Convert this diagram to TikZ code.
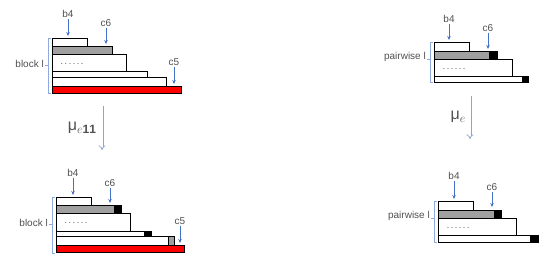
\documentclass[tikz,border=0pt]{standalone}
\usepackage{fontspec}
\setmainfont{Liberation Sans}
\usetikzlibrary{arrows.meta}
\definecolor{arrblue}{HTML}{4472C4}
\definecolor{brblue}{HTML}{8FAADC}
\definecolor{bigblue}{HTML}{8EA4CC}
\definecolor{rowgray}{HTML}{A0A0A0}
\definecolor{txtgray}{HTML}{505050}
\newcommand{\musub}[1]{\raisebox{-3pt}{\fontsize{12}{13}\selectfont$#1$}}
\tikzset{lbl/.style={inner sep=1pt, font=\fontsize{10}{11}\selectfont, text=txtgray},
  dotlbl/.style={lbl, font=\fontsize{9}{10}\selectfont},
  mulbl/.style={lbl, inner sep=0pt, font=\fontsize{16}{17}\selectfont},
  ptr/.style={draw=arrblue, -{Stealth[length=4pt, width=3.5pt]}, line width=0.6pt},
  brk/.style={draw=brblue, line width=0.7pt},
  row/.style={draw=black, line width=0.6pt, fill=white},
  grayrow/.style={row, fill=rowgray},
  redrow/.style={row, fill=red},
  blk/.style={row, fill=black},
  bigarr/.style={draw=bigblue, double=white, double distance=1.6pt,
    line width=0.7pt, -{Implies}}}

\begin{document}
\begin{tikzpicture}[x=1pt, y=-1pt]
  \useasboundingbox (0,0) rectangle (554,262);
  % top left
  \draw[row]     (52,38) rectangle (87,46);
  \draw[grayrow] (52,46) rectangle (112,54);
  \draw[row]     (52,54) rectangle (126,71);
  \draw[row]     (52,71) rectangle (147,77);
  \draw[row]     (52,77) rectangle (166,86);
  \draw[redrow]  (52,86) rectangle (181,93);
  \node[dotlbl] (dots1) at (72,64) {.\,.\,.\,.\,.\,.};
  \node[lbl] (b4a) at (68,14) {b4};
  \node[lbl] (c6a) at (106,23) {c6};
  \node[lbl] (c5a) at (174,62) {c5};
  \coordinate (pb4a) at (68,36);
  \coordinate (pc6a) at (106,44);
  \coordinate (pc5a) at (174,84);
  \draw[ptr] (b4a) -- (pb4a);
  \draw[ptr] (c6a) -- (pc6a);
  \draw[ptr] (c5a) -- (pc5a);
  \draw[brk] (51,38) -- (48,38) -- (48,93) -- (51,93);
  \draw[brk] (48,65) -- (45,65);
  \node[lbl, anchor=east] (bla) at (45,64) {block l};
  % arrow left
  \coordinate (ta) at (102,106);
  \coordinate (ha) at (102,150);
  \draw[bigarr] (ta) -- (ha);
  \node[mulbl] (mua) at (82,128) {μ\musub{e\mathbf{11}}};
  % bottom left
  \draw[row]     (56,197) rectangle (91,205);
  \draw[grayrow] (56,205) rectangle (114,213);
  \draw[blk]     (114,205) rectangle (121,213);
  \draw[row]     (56,213) rectangle (130,231);
  \draw[row]     (56,231) rectangle (144,236);
  \draw[blk]     (144,231) rectangle (151,236);
  \draw[row]     (56,236) rectangle (168,245);
  \draw[grayrow] (168,236) rectangle (174,245);
  \draw[redrow]  (56,245) rectangle (184,252);
  \node[dotlbl] (dots2) at (76,223) {.\,.\,.\,.\,.\,.};
  \node[lbl] (b4b) at (73,173) {b4};
  \node[lbl] (c6b) at (110,183) {c6};
  \node[lbl] (c5b) at (180,221) {c5};
  \coordinate (pb4b) at (73,195);
  \coordinate (pc6b) at (110,203);
  \coordinate (pc5b) at (180,243);
  \draw[ptr] (b4b) -- (pb4b);
  \draw[ptr] (c6b) -- (pc6b);
  \draw[ptr] (c5b) -- (pc5b);
  \draw[brk] (55,197) -- (52,197) -- (52,253) -- (55,253);
  \draw[brk] (52,224) -- (49,224);
  \node[lbl, anchor=east] (blb) at (49,223) {block l};
  % top right
  \draw[row]     (434,42) rectangle (469,51);
  \draw[grayrow] (434,51) rectangle (489,59);
  \draw[blk]     (489,51) rectangle (497,59);
  \draw[row]     (434,59) rectangle (512,76);
  \draw[row]     (434,76) rectangle (522,82);
  \draw[blk]     (522,76) rectangle (528,82);
  \node[dotlbl] (dots3) at (454,69) {.\,.\,.\,.\,.\,.};
  \node[lbl] (b4c) at (449,19) {b4};
  \node[lbl] (c6c) at (488,28) {c6};
  \coordinate (pb4c) at (449,40);
  \coordinate (pc6c) at (488,49);
  \draw[ptr] (b4c) -- (pb4c);
  \draw[ptr] (c6c) -- (pc6c);
  \draw[brk] (433,42) -- (430,42) -- (430,82) -- (433,82);
  \draw[brk] (430,59) -- (427,59);
  \node[lbl, anchor=east] (pwa) at (427,57) {pairwise l};
  % arrow right
  \coordinate (tb) at (470,96);
  \coordinate (hb) at (470,139);
  \draw[bigarr] (tb) -- (hb);
  \node[mulbl] (mub) at (458,117) {μ\musub{e}};
  % bottom right
  \draw[row]     (438,201) rectangle (473,210);
  \draw[grayrow] (438,210) rectangle (494,218);
  \draw[blk]     (494,210) rectangle (501,218);
  \draw[row]     (438,218) rectangle (516,235);
  \draw[row]     (438,235) rectangle (530,242);
  \draw[blk]     (530,235) rectangle (538,242);
  \node[dotlbl] (dots4) at (458,228) {.\,.\,.\,.\,.\,.};
  \node[lbl] (b4d) at (454,176) {b4};
  \node[lbl] (c6d) at (492,187) {c6};
  \coordinate (pb4d) at (454,199);
  \coordinate (pc6d) at (492,207);
  \draw[ptr] (b4d) -- (pb4d);
  \draw[ptr] (c6d) -- (pc6d);
  \draw[brk] (437,201) -- (434,201) -- (434,242) -- (437,242);
  \draw[brk] (434,218) -- (431,218);
  \node[lbl, anchor=east] (pwb) at (431,216) {pairwise l};
\end{tikzpicture}
\end{document}
